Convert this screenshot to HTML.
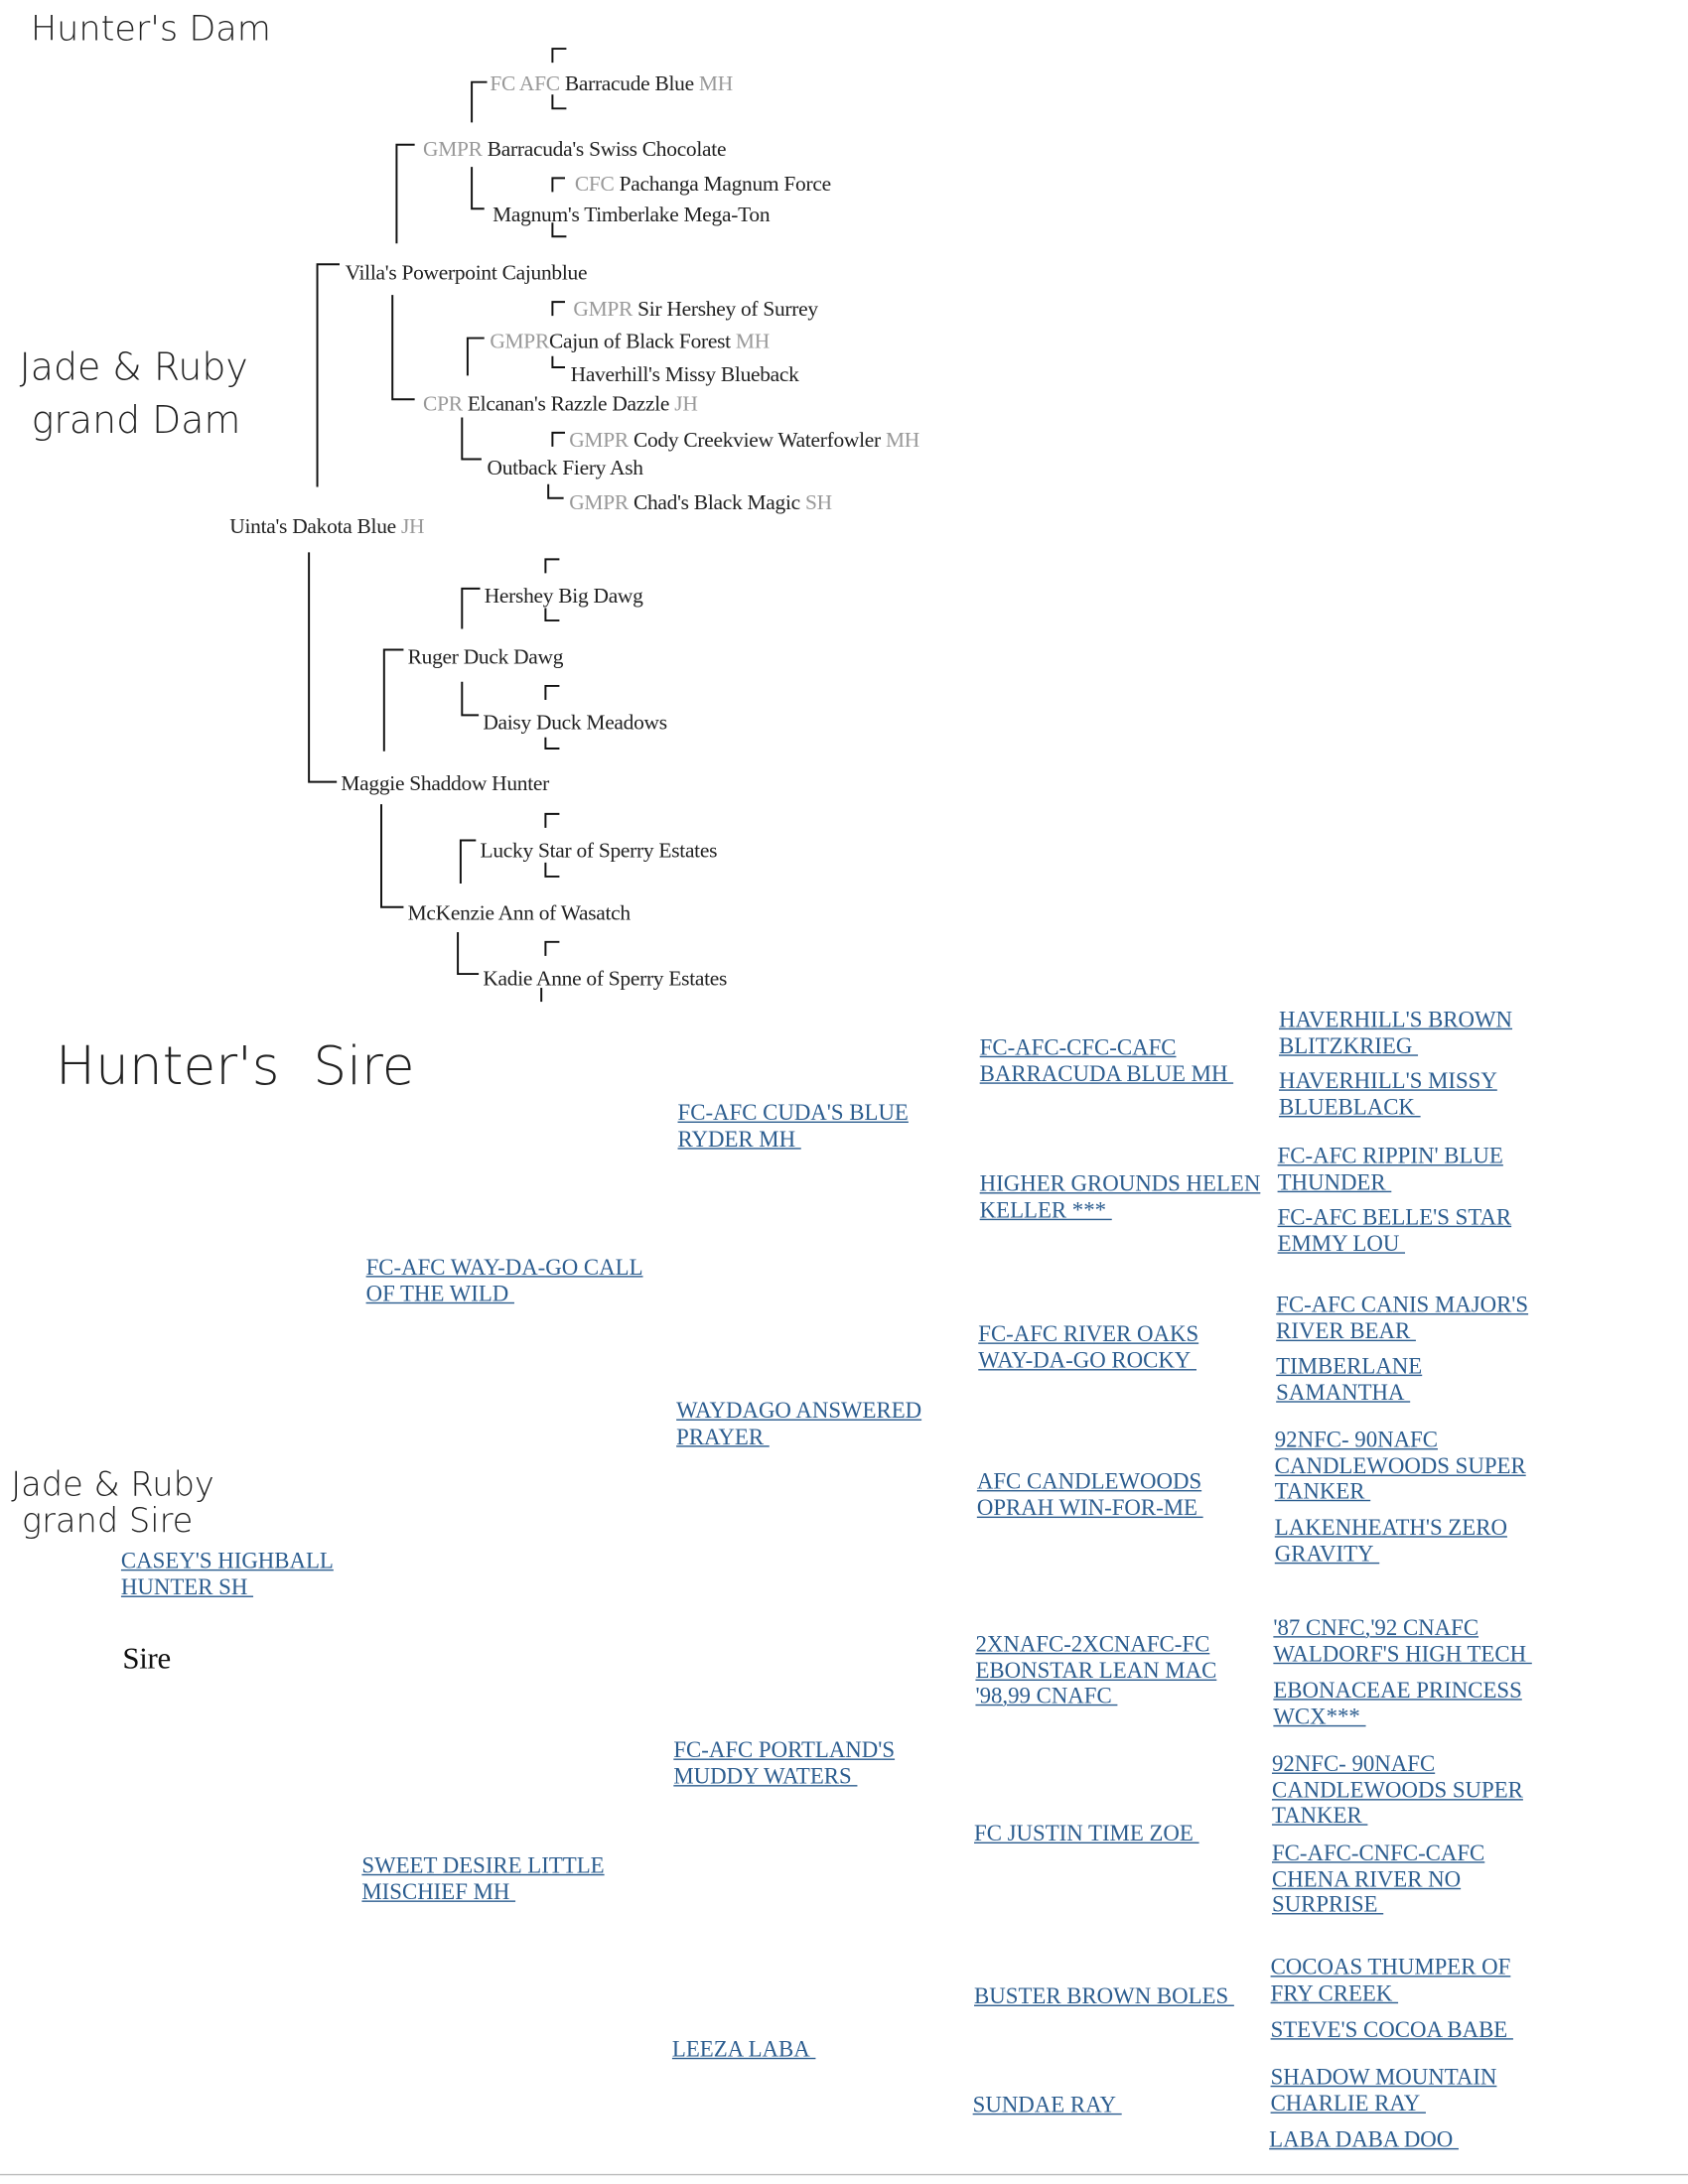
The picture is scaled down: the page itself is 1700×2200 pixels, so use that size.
<!DOCTYPE html>
<html><head><meta charset="utf-8"><style>
html,body{margin:0;padding:0;background:#fff;}
body{width:1700px;height:2200px;overflow:hidden;position:relative;}
#c{position:absolute;left:0;top:0;width:1213px;height:1570px;transform:scale(1.4015);transform-origin:0 0;}
.t{position:absolute;font-family:"Liberation Serif",serif;font-size:15.3px;line-height:14px;color:#222;white-space:nowrap;letter-spacing:-0.2px;margin-top:4px;}
.g{color:#999;}
.b{position:absolute;font-family:"Liberation Serif",serif;font-size:16.3px;line-height:18.5px;color:#2c5d8f;white-space:nowrap;margin-top:3px;}
.b span{text-decoration:underline;text-decoration-thickness:1.3px;}
.h{position:absolute;font-family:"DejaVu Sans",sans-serif;color:#222;white-space:nowrap;font-weight:300;}
</style></head><body><div id="c">
<svg width="1213" height="1570" style="position:absolute;left:0;top:0" stroke="#111" stroke-width="1.4" fill="none">
<path d="M397 45V35H407"/><path d="M350 59H339V88"/><path d="M397 68V78H407"/>
<path d="M298 104H285V175"/><path d="M339 120V150H348"/>
<path d="M397 138V128H406"/><path d="M397 160V170H407"/>
<path d="M244 190H228V350"/>
<path d="M282 212V287H298"/>
<path d="M397 227V217H406"/><path d="M348 243H336V270"/><path d="M397 256V264H406"/>
<path d="M332 300V330H346"/>
<path d="M397 321V311H406"/><path d="M394 348V358H405"/>
<path d="M222 397V562H242"/>
<path d="M392 412V402H402"/><path d="M345 423H332V452"/><path d="M392 437V446H402"/>
<path d="M290 467H276V540"/>
<path d="M392 503V493H402"/><path d="M332 490V514H344"/><path d="M392 530V538H402"/>
<path d="M274 578V652H290"/>
<path d="M392 595V585H402"/><path d="M342 604H331V635"/><path d="M392 620V630H402"/>
<path d="M392 687V677H402"/><path d="M329 670V700H344"/><path d="M389 710V720"/>
<path d="M0 1563H1213" stroke="#bbb" stroke-width="1"/>
</svg>
<div class="h" style="left:22px;top:6px;font-size:25px;">Hunter's Dam</div>
<div class="h" style="left:14px;top:246px;font-size:27px;line-height:38px;">Jade &amp; Ruby<br>&nbsp;grand Dam</div>
<div class="h" style="left:40px;top:744px;font-size:38px;">Hunter's &nbsp;Sire</div>
<div class="h" style="left:8px;top:1054px;font-size:24px;line-height:26px;">Jade &amp; Ruby<br>&nbsp;grand Sire</div>
<div class="t" style="left:88px;top:1176px;font-size:22px;line-height:24px;color:#111;">Sire</div>

<div class="t" style="left:352px;top:50px;"><span class="g">FC AFC</span> Barracude Blue <span class="g">MH</span></div>
<div class="t" style="left:304px;top:97px;"><span class="g">GMPR</span> Barracuda's Swiss Chocolate</div>
<div class="t" style="left:413px;top:122px;"><span class="g">CFC</span> Pachanga Magnum Force</div>
<div class="t" style="left:354px;top:144px;">Magnum's Timberlake Mega-Ton</div>
<div class="t" style="left:248px;top:186px;">Villa's Powerpoint Cajunblue</div>
<div class="t" style="left:412px;top:212px;"><span class="g">GMPR</span> Sir Hershey of Surrey</div>
<div class="t" style="left:352px;top:235px;"><span class="g">GMPR</span>Cajun of Black Forest <span class="g">MH</span></div>
<div class="t" style="left:410px;top:259px;">Haverhill's Missy Blueback</div>
<div class="t" style="left:304px;top:280px;"><span class="g">CPR</span> Elcanan's Razzle Dazzle <span class="g">JH</span></div>
<div class="t" style="left:409px;top:306px;"><span class="g">GMPR</span> Cody Creekview Waterfowler <span class="g">MH</span></div>
<div class="t" style="left:350px;top:326px;">Outback Fiery Ash</div>
<div class="t" style="left:409px;top:351px;"><span class="g">GMPR</span> Chad's Black Magic <span class="g">SH</span></div>
<div class="t" style="left:165px;top:368px;">Uinta's Dakota Blue <span class="g">JH</span></div>
<div class="t" style="left:348px;top:418px;">Hershey Big Dawg</div>
<div class="t" style="left:293px;top:462px;">Ruger Duck Dawg</div>
<div class="t" style="left:347px;top:509px;">Daisy Duck Meadows</div>
<div class="t" style="left:245px;top:553px;">Maggie Shaddow Hunter</div>
<div class="t" style="left:345px;top:601px;">Lucky Star of Sperry Estates</div>
<div class="t" style="left:293px;top:646px;">McKenzie Ann of Wasatch</div>
<div class="t" style="left:347px;top:693px;">Kadie Anne of Sperry Estates</div>

<div class="b" style="left:919px;top:721px;"><span>HAVERHILL'S BROWN</span><br><span>BLITZKRIEG&nbsp;</span></div>
<div class="b" style="left:919px;top:765px;"><span>HAVERHILL'S MISSY</span><br><span>BLUEBLACK&nbsp;</span></div>
<div class="b" style="left:918px;top:819px;"><span>FC-AFC RIPPIN' BLUE</span><br><span>THUNDER&nbsp;</span></div>
<div class="b" style="left:918px;top:863px;"><span>FC-AFC BELLE'S STAR</span><br><span>EMMY LOU&nbsp;</span></div>
<div class="b" style="left:917px;top:926px;"><span>FC-AFC CANIS MAJOR'S</span><br><span>RIVER BEAR&nbsp;</span></div>
<div class="b" style="left:917px;top:970px;"><span>TIMBERLANE</span><br><span>SAMANTHA&nbsp;</span></div>
<div class="b" style="left:916px;top:1023px;"><span>92NFC- 90NAFC</span><br><span>CANDLEWOODS SUPER</span><br><span>TANKER&nbsp;</span></div>
<div class="b" style="left:916px;top:1086px;"><span>LAKENHEATH'S ZERO</span><br><span>GRAVITY&nbsp;</span></div>
<div class="b" style="left:915px;top:1158px;"><span>'87 CNFC,'92 CNAFC</span><br><span>WALDORF'S HIGH TECH&nbsp;</span></div>
<div class="b" style="left:915px;top:1203px;"><span>EBONACEAE PRINCESS</span><br><span>WCX***&nbsp;</span></div>
<div class="b" style="left:914px;top:1256px;"><span>92NFC- 90NAFC</span><br><span>CANDLEWOODS SUPER</span><br><span>TANKER&nbsp;</span></div>
<div class="b" style="left:914px;top:1320px;"><span>FC-AFC-CNFC-CAFC</span><br><span>CHENA RIVER NO</span><br><span>SURPRISE&nbsp;</span></div>
<div class="b" style="left:913px;top:1402px;"><span>COCOAS THUMPER OF</span><br><span>FRY CREEK&nbsp;</span></div>
<div class="b" style="left:913px;top:1447px;"><span>STEVE'S COCOA BABE&nbsp;</span></div>
<div class="b" style="left:913px;top:1481px;"><span>SHADOW MOUNTAIN</span><br><span>CHARLIE RAY&nbsp;</span></div>
<div class="b" style="left:912px;top:1526px;"><span>LABA DABA DOO&nbsp;</span></div>

<div class="b" style="left:704px;top:741px;"><span>FC-AFC-CFC-CAFC</span><br><span>BARRACUDA BLUE MH&nbsp;</span></div>
<div class="b" style="left:704px;top:839px;"><span>HIGHER GROUNDS HELEN</span><br><span>KELLER ***&nbsp;</span></div>
<div class="b" style="left:703px;top:947px;"><span>FC-AFC RIVER OAKS</span><br><span>WAY-DA-GO ROCKY&nbsp;</span></div>
<div class="b" style="left:702px;top:1053px;"><span>AFC CANDLEWOODS</span><br><span>OPRAH WIN-FOR-ME&nbsp;</span></div>
<div class="b" style="left:701px;top:1170px;"><span>2XNAFC-2XCNAFC-FC</span><br><span>EBONSTAR LEAN MAC</span><br><span>'98,99 CNAFC&nbsp;</span></div>
<div class="b" style="left:700px;top:1306px;"><span>FC JUSTIN TIME ZOE&nbsp;</span></div>
<div class="b" style="left:700px;top:1423px;"><span>BUSTER BROWN BOLES&nbsp;</span></div>
<div class="b" style="left:699px;top:1501px;"><span>SUNDAE RAY&nbsp;</span></div>

<div class="b" style="left:487px;top:788px;"><span>FC-AFC CUDA'S BLUE</span><br><span>RYDER MH&nbsp;</span></div>
<div class="b" style="left:486px;top:1002px;"><span>WAYDAGO ANSWERED</span><br><span>PRAYER&nbsp;</span></div>
<div class="b" style="left:484px;top:1246px;"><span>FC-AFC PORTLAND'S</span><br><span>MUDDY WATERS&nbsp;</span></div>
<div class="b" style="left:483px;top:1461px;"><span>LEEZA LABA&nbsp;</span></div>

<div class="b" style="left:263px;top:899px;"><span>FC-AFC WAY-DA-GO CALL</span><br><span>OF THE WILD&nbsp;</span></div>
<div class="b" style="left:260px;top:1329px;"><span>SWEET DESIRE LITTLE</span><br><span>MISCHIEF MH&nbsp;</span></div>
<div class="b" style="left:87px;top:1110px;"><span>CASEY'S HIGHBALL</span><br><span>HUNTER SH&nbsp;</span></div>
</div></body></html>
